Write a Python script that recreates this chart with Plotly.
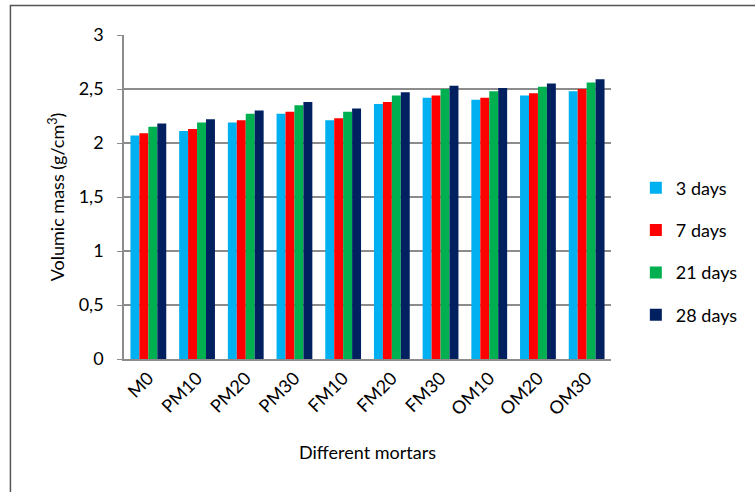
import plotly.graph_objects as go

categories = ["M0", "PM10", "PM20", "PM30", "FM10", "FM20", "FM30", "OM10", "OM20", "OM30"]
series_names = ["3 days", "7 days", "21 days", "28 days"]
d3 = [2.07, 2.11, 2.19, 2.27, 2.21, 2.36, 2.42, 2.40, 2.44, 2.48]
d7 = [2.09, 2.13, 2.21, 2.29, 2.23, 2.38, 2.44, 2.42, 2.46, 2.50]
d21 = [2.15, 2.19, 2.27, 2.35, 2.29, 2.44, 2.50, 2.48, 2.52, 2.56]
d28 = [2.18, 2.22, 2.30, 2.38, 2.32, 2.47, 2.53, 2.51, 2.55, 2.59]
series_values = [d3, d7, d21, d28]
colors = ["#00B0F0", "#FF0000", "#00B050", "#002060"]
y_ticks = [0, 0.5, 1, 1.5, 2, 2.5, 3]
y_ticktext = ["0", "0,5", "1", "1,5", "2", "2,5", "3"]

FONT = "Lato, Carlito, Calibri, sans-serif"

fig = go.Figure()
for name, vals, col in zip(series_names, series_values, colors):
    fig.add_trace(go.Bar(x=categories, y=vals, name=name, marker_color=col,
                         marker_line_width=0, legendgroup=name))

fig.update_layout(
    width=755, height=492,
    margin=dict(l=124, r=140, t=35, b=133),
    paper_bgcolor="white", plot_bgcolor="white",
    font=dict(family=FONT, size=18, color="#000000"),
    barmode="group", bargap=0.265, bargroupgap=0,
    showlegend=True,
    legend=dict(x=1.051, y=0.585, xanchor="left", yanchor="top",
                font=dict(size=18), tracegroupgap=16, itemwidth=30,
                bgcolor="rgba(0,0,0,0)"),
    xaxis=dict(showline=True, linecolor="#8C8C8C", linewidth=1.5,
               tickangle=-45, ticks="", showgrid=False,
               title=dict(text="Different mortars", standoff=28, font=dict(size=18))),
    yaxis=dict(range=[0, 3], tickvals=y_ticks, ticktext=y_ticktext,
               showline=True, linecolor="#8C8C8C", linewidth=1.5,
               ticks="outside", ticklen=5, tickcolor="#8C8C8C",
               ticklabelstandoff=10,
               showgrid=True, gridcolor="#8C8C8C", gridwidth=1.5,
               zeroline=False,
               title=dict(text="Volumic mass (g/cm<sup>3</sup>)", standoff=9, font=dict(size=18))),
    shapes=[dict(type="rect", xref="paper", yref="paper",
                 x0=-0.2332, x1=1.32, y0=-0.5, y1=1.091,
                 line=dict(color="#555555", width=1.5), fillcolor="rgba(0,0,0,0)",
                 layer="below")],
)

fig.write_html("out.html", config={"displayModeBar": False},
               post_script="document.body.style.margin='0';")
